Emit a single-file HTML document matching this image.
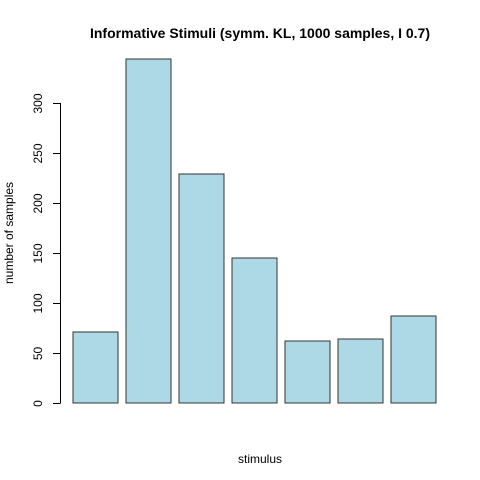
<!DOCTYPE html>
<html><head><meta charset="utf-8"><style>
html,body{margin:0;padding:0;background:#fff;}
svg{display:block;font-family:"Liberation Sans",Arial,sans-serif;}
</style></head><body>
<svg id="chart" width="480" height="480" viewBox="0 0 480 480">
<rect width="480" height="480" fill="#fff"/>
<text x="260" y="38" text-anchor="middle" font-weight="bold" font-size="14">Informative Stimuli (symm. KL, 1000 samples, I 0.7)</text>
<text x="260" y="463" text-anchor="middle" font-size="12">stimulus</text>
<text transform="translate(13,233) rotate(-90)" text-anchor="middle" font-size="12">number of samples</text>
<g id="bars"></g>
<g id="yaxis"></g>
</svg>
<script>
const categories = ["1","2","3","4","5","6","7"];
const counts = [71, 344, 229, 145, 62, 64, 87];
const yTicks = [0, 50, 100, 150, 200, 250, 300];
const ns = "http://www.w3.org/2000/svg";
function yScale(v){ return 403 - v * 1.0; }
function xLeft(i){ return 73 + i * 53; }
const barW = 45;
const bars = document.getElementById('bars');
counts.forEach((v,i)=>{
  const r = document.createElementNS(ns,'rect');
  r.setAttribute('x', xLeft(i));
  r.setAttribute('y', yScale(v));
  r.setAttribute('width', barW);
  r.setAttribute('height', yScale(0)-yScale(v));
  r.setAttribute('fill', '#add8e6');
  r.setAttribute('stroke', '#333');
  r.setAttribute('stroke-width', '1');
  
  
  bars.appendChild(r);
});
const ya = document.getElementById('yaxis');
const ax = document.createElementNS(ns,'line');
ax.setAttribute('x1',60.5); ax.setAttribute('x2',60.5);
ax.setAttribute('y1',yScale(yTicks[0])); ax.setAttribute('y2',yScale(yTicks[yTicks.length-1]));
ax.setAttribute('stroke','#000');


ya.appendChild(ax);
yTicks.forEach(t=>{
  const y = Math.round(yScale(t))+0.5;
  const l = document.createElementNS(ns,'line');
  l.setAttribute('x1',53); l.setAttribute('x2',60.5);
  l.setAttribute('y1',y); l.setAttribute('y2',y);
  l.setAttribute('stroke','#000');
  
  
  ya.appendChild(l);
  const tx = document.createElementNS(ns,'text');
  tx.setAttribute('transform', 'translate(42,' + y + ') rotate(-90)');
  tx.setAttribute('text-anchor','middle');
  tx.setAttribute('font-size','12');
  tx.textContent = t;
  
  
  ya.appendChild(tx);
});
</script>
</body></html>
